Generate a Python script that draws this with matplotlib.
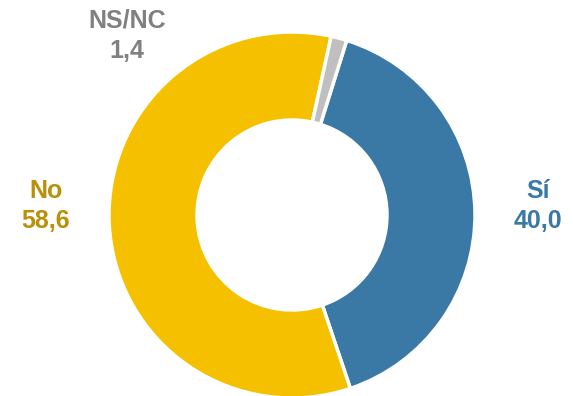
import matplotlib
matplotlib.use("Agg")
import matplotlib.pyplot as plt

categories = ["Sí", "No", "NS/NC"]
values = [40.0, 58.6, 1.4]
value_labels = ["40,0", "58,6", "1,4"]
colors = ["#3A78A6", "#F5C000", "#BFBFBF"]
label_colors = ["#3A78A6", "#B8900A", "#808080"]

W, H = 573, 396
fig = plt.figure(figsize=(W / 100, H / 100), dpi=100)
ax = fig.add_axes([0, 0, 1, 1])

cx, cy, R = 292, H - 215, 183
ax.pie(values, colors=colors, startangle=72.6, counterclock=False,
       center=(cx, cy), radius=R,
       wedgeprops=dict(width=R - 95, edgecolor="white", linewidth=2.5),
       frame=True)
ax.set_xlim(0, W)
ax.set_ylim(0, H)
ax.set_aspect("equal")
ax.axis("off")

label_pos = [(538, H - 206), (46, H - 206), (127, H - 36)]
for cat, vl, col, (x, y) in zip(categories, value_labels, label_colors, label_pos):
    ax.text(x, y, f"{cat}\n{vl}", ha="center", va="center", color=col,
            fontsize=18, fontweight="bold", family="Liberation Sans",
            linespacing=1.35)

fig.savefig("out.png", dpi=100)
